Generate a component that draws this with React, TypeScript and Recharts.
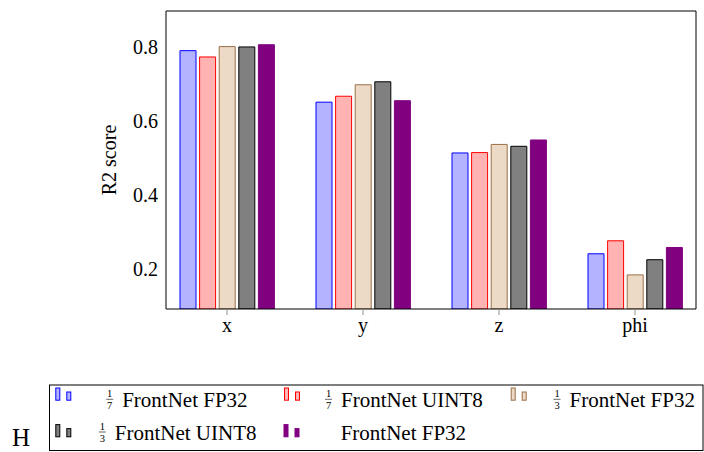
import React from 'react';
import { BarChart, Bar, XAxis, YAxis } from 'recharts';

const CATEGORIES = ['x', 'y', 'z', 'phi'];
const SEVENTH_FP32 = [0.789, 0.65, 0.513, 0.241];
const SEVENTH_UINT8 = [0.772, 0.666, 0.514, 0.276];
const THIRD_FP32 = [0.8, 0.697, 0.536, 0.184];
const THIRD_UINT8 = [0.799, 0.705, 0.531, 0.225];
const FULL_FP32 = [0.805, 0.654, 0.548, 0.258];

const SERIES_VALUES = [SEVENTH_FP32, SEVENTH_UINT8, THIRD_FP32, THIRD_UINT8, FULL_FP32];
const SERIES_FRAC_DEN = ['7', '7', '3', '3', ''];
const SERIES_TEXT = ['FrontNet FP32', 'FrontNet UINT8', 'FrontNet FP32', 'FrontNet UINT8', 'FrontNet FP32'];

const Y_TICKS = [0.2, 0.4, 0.6, 0.8];
const Y_TICK_LABELS = ['0.2', '0.4', '0.6', '0.8'];
const Y_DOMAIN: [number, number] = [0.092, 0.896];
const Y_TITLE = 'R2 score';
const LEFT_MARK = 'H';

const STYLES = [
  { fill: '#b3b3ff', stroke: '#0000ff' },
  { fill: '#ffb3b3', stroke: '#ff0000' },
  { fill: '#ecd9c6', stroke: '#9a7048' },
  { fill: '#808080', stroke: '#000000' },
  { fill: '#800080', stroke: '#800080' },
];

const FONT = 'Liberation Serif';
const TICK_GRAY = '#8c8c8c';

const data = CATEGORIES.map((c, i) => {
  const row: Record<string, string | number> = { cat: c };
  SERIES_VALUES.forEach((s, k) => {
    row['s' + k] = s[i];
  });
  return row;
});

// legend layout
const LEG_ICON_X = [55.3, 284, 510.7, 55.3, 283.5];
const LEG_FRAC_CX = [109.7, 328.5, 557, 102.3, 0];
const LEG_TEXT_X5 = 340.7;
const LEG_BASELINE = [407.3, 440];
const LEG_ICON_BOTTOM = [400.7, 437.3];

function LegendOverlay() {
  return (
    <svg
      width={704}
      height={452}
      style={{ position: 'absolute', left: 0, top: 0, pointerEvents: 'none' }}
      fontFamily={FONT}
    >
      <text
        transform="translate(115.5,160) rotate(-90)"
        textAnchor="middle"
        fontSize={20}
        fill="#000"
      >
        {Y_TITLE}
      </text>
      <text x={12} y={446} fontSize={25} fill="#000">
        {LEFT_MARK}
      </text>
      <rect x={49.5} y={385} width={653.5} height={65.5} fill="none" stroke="#000" strokeWidth={1} />
      {SERIES_TEXT.map((t, i) => {
        const row = i < 3 ? 0 : 1;
        const st = STYLES[i];
        const ix = LEG_ICON_X[i];
        const bot = LEG_ICON_BOTTOM[row];
        const base = LEG_BASELINE[row];
        const den = SERIES_FRAC_DEN[i];
        const cx = LEG_FRAC_CX[i];
        const lineY = base - 8;
        const textX = den ? cx + 12.5 : LEG_TEXT_X5;
        return (
          <g key={i}>
            <rect x={ix + 0.5} y={bot - 12.7} width={4} height={12.2} fill={st.fill} stroke={st.stroke} strokeWidth={1} />
            <rect x={ix + 11.5} y={bot - 8.7} width={4} height={8.2} fill={st.fill} stroke={st.stroke} strokeWidth={1} />
            {den ? (
              <g>
                <text x={cx} y={lineY - 2.2} fontSize={10.5} textAnchor="middle" fill="#000">
                  1
                </text>
                <line x1={cx - 3.5} x2={cx + 3.5} y1={lineY} y2={lineY} stroke="#000" strokeWidth={0.6} />
                <text x={cx} y={lineY + 9.6} fontSize={10.5} textAnchor="middle" fill="#000">
                  {den}
                </text>
              </g>
            ) : null}
            <text x={textX} y={base} fontSize={21} fill="#000">
              {t}
            </text>
          </g>
        );
      })}
    </svg>
  );
}

export default function App() {
  const tickStyle = { fontSize: 20, fill: '#000', fontFamily: FONT };
  return (
    <div style={{ position: 'absolute', left: 0, top: 0, width: 704, height: 452, background: '#fff' }}>
      <BarChart
        width={704}
        height={452}
        data={data}
        margin={{ top: 10, right: 8, left: 0, bottom: 113 }}
        barSize={16}
        barGap={3.6}
      >
        <XAxis
          xAxisId="b"
          dataKey="cat"
          orientation="bottom"
          height={30}
          padding={{ left: -7, right: -7 }}
          tickSize={6}
          tickMargin={3}
          tickLine={{ stroke: TICK_GRAY }}
          axisLine={{ stroke: '#000' }}
          tick={tickStyle}
          interval={0}
        />
        <XAxis
          xAxisId="t"
          dataKey="cat"
          orientation="top"
          height={1}
          padding={{ left: -7, right: -7 }}
          tickSize={6}
          tickLine={{ stroke: TICK_GRAY }}
          axisLine={{ stroke: '#000' }}
          tick={false}
          interval={0}
        />
        <YAxis
          yAxisId="l"
          orientation="left"
          width={166}
          type="number"
          domain={Y_DOMAIN}
          allowDataOverflow
          ticks={Y_TICKS}
          tickFormatter={(v: number) => Y_TICK_LABELS[Y_TICKS.indexOf(v)] ?? String(v)}
          tickSize={0}
          tickMargin={8}
          tickLine={false}
          axisLine={{ stroke: '#000' }}
          tick={tickStyle}
        />
        <YAxis
          yAxisId="lm"
          orientation="left"
          mirror
          width={1}
          type="number"
          domain={Y_DOMAIN}
          allowDataOverflow
          ticks={Y_TICKS}
          tickSize={5}
          tickLine={{ stroke: TICK_GRAY }}
          axisLine={false}
          tick={false}
        />
        <YAxis
          yAxisId="rm"
          orientation="right"
          mirror
          width={1}
          type="number"
          domain={Y_DOMAIN}
          allowDataOverflow
          ticks={Y_TICKS}
          tickSize={5}
          tickLine={{ stroke: TICK_GRAY }}
          axisLine={{ stroke: '#000' }}
          tick={false}
        />
        {SERIES_VALUES.map((_, k) => (
          <Bar
            key={k}
            xAxisId="b"
            yAxisId="l"
            dataKey={'s' + k}
            name={(SERIES_FRAC_DEN[k] ? '1/' + SERIES_FRAC_DEN[k] + ' ' : '') + SERIES_TEXT[k]}
            fill={STYLES[k].fill}
            stroke={STYLES[k].stroke}
            strokeWidth={1}
            isAnimationActive={false}
          />
        ))}
      </BarChart>
      <LegendOverlay />
    </div>
  );
}
